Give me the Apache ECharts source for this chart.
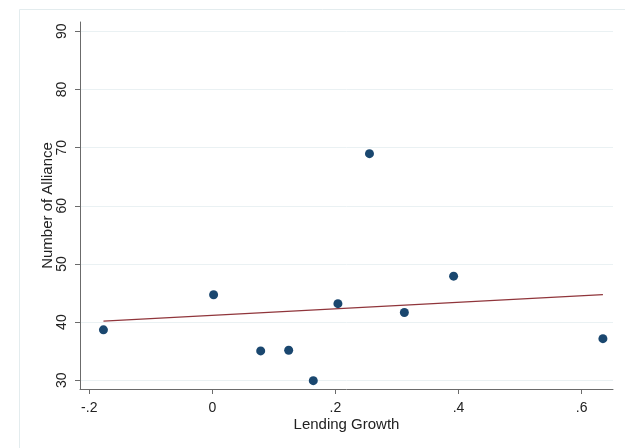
<!DOCTYPE html>
<html>
<head>
<meta charset="utf-8">
<script src="https://cdn.jsdelivr.net/npm/echarts@6/dist/echarts.min.js"></script>
<style>
html,body{margin:0;padding:0;background:#fff;}
#chart{width:625px;height:448px;}
</style>
</head>
<body>
<div id="chart"></div>
<script>
// Data
var lendingGrowth = [-0.177, 0.002, 0.0785, 0.124, 0.164, 0.204, 0.2553, 0.312, 0.392, 0.6346];
var numAlliance   = [38.67, 44.7, 35.05, 35.17, 29.93, 43.17, 68.96, 41.66, 47.9, 37.16];
// Fitted line endpoints
var fitX = [-0.177, 0.6346];
var fitY = [40.17, 44.72];
// Tick values
var xTicks = [-0.2, 0, 0.2, 0.4, 0.6];
var yTicks = [30, 40, 50, 60, 70, 80, 90];

function fmtX(v){
  if (Math.abs(v) < 1e-9) return '0';
  var s = (Math.round(v*10)/10).toString();
  return s.replace(/^(-?)0\./, '$1.');
}

var chart = echarts.init(document.getElementById('chart'), null, {renderer:'canvas'});
var font = 'Liberation Sans, Arial, sans-serif';
var axisColor = '#6b6b6b';

chart.setOption({
  animation: false,
  backgroundColor: '#ffffff',
  graphic: [{
    type: 'rect', left: 17, top: 7, silent: true,
    shape: {width: 700, height: 500},
    style: {fill: 'none', stroke: '#e3ecee', lineWidth: 1}
  }],
  grid: {left: 80, top: 22, right: 12, bottom: 59, containLabel: false},
  xAxis: {
    type: 'value', min: -0.2151, max: 0.651,
    name: 'Lending Growth', nameLocation: 'middle', nameGap: 28, nameMoveOverlap: false,
    nameTextStyle: {fontFamily: font, fontSize: 15, color: '#222'},
    axisLine: {show: true, onZero: false, lineStyle: {color: axisColor, width: 1}},
    axisTick: {show: true, length: 5, customValues: xTicks, lineStyle: {color: axisColor}},
    axisLabel: {customValues: xTicks, formatter: fmtX, fontFamily: font, fontSize: 14, color: '#222', margin: 12},
    splitLine: {show: false}
  },
  yAxis: {
    type: 'value', min: 28.5, max: 91.6,
    name: 'Number of Alliance', nameLocation: 'middle', nameGap: 25, nameRotate: 90, nameMoveOverlap: false,
    nameTextStyle: {fontFamily: font, fontSize: 15, color: '#222'},
    axisLine: {show: true, onZero: false, lineStyle: {color: axisColor, width: 1}},
    axisTick: {show: true, length: 5, customValues: yTicks, lineStyle: {color: axisColor}},
    axisLabel: {customValues: yTicks, rotate: 90, fontFamily: font, fontSize: 14, color: '#222', margin: 11},
    splitLine: {show: true, lineStyle: {color: '#eaf1f3', width: 1}}
  },
  series: [{
    type: 'scatter',
    data: lendingGrowth.map(function(x, i){ return [x, numAlliance[i]]; }),
    symbol: 'circle', symbolSize: 9,
    itemStyle: {color: '#1a476f', opacity: 1},
    z: 3
  }, {
    type: 'line',
    data: fitX.map(function(x, i){ return [x, fitY[i]]; }),
    symbol: 'none',
    lineStyle: {color: '#90353b', width: 1.2},
    z: 2
  }]
});
</script>
</body>
</html>
